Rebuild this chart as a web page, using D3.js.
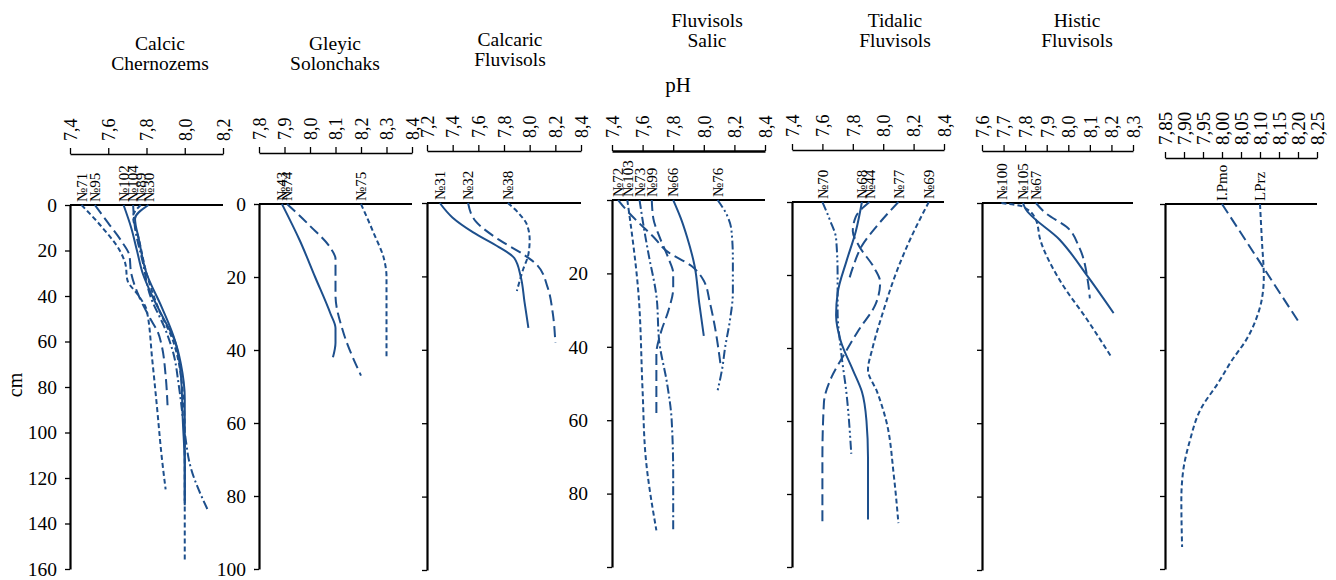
<!DOCTYPE html>
<html>
<head>
<meta charset="utf-8">
<script src="https://cdn.jsdelivr.net/npm/d3@7"></script>
<style>
  html, body { margin: 0; padding: 0; background: #fff; }
  svg { display: block; font-family: "Liberation Serif", "Times New Roman", serif; }
</style>
</head>
<body>
<svg id="chart" width="1336" height="580"></svg>
<script>
// Soil group headers (two lines each; the last panel has none)
const groupTitles = [
  ["Calcic", "Chernozems"],
  ["Gleyic", "Solonchaks"],
  ["Calcaric", "Fluvisols"],
  ["Fluvisols", "Salic"],
  ["Tidalic", "Fluvisols"],
  ["Histic", "Fluvisols"],
  []
];

// pH tick values of each panel's top axis
const phTicks = [
  [7.4, 7.6, 7.8, 8.0, 8.2],
  [7.8, 7.9, 8.0, 8.1, 8.2, 8.3, 8.4],
  [7.2, 7.4, 7.6, 7.8, 8.0, 8.2, 8.4],
  [7.4, 7.6, 7.8, 8.0, 8.2, 8.4],
  [7.4, 7.6, 7.8, 8.0, 8.2, 8.4],
  [7.6, 7.7, 7.8, 7.9, 8.0, 8.1, 8.2, 8.3],
  [7.85, 7.90, 7.95, 8.00, 8.05, 8.10, 8.15, 8.20, 8.25]
];

// depth ticks (cm)
const depthTicksDeep = [0, 20, 40, 60, 80, 100, 120, 140, 160];
const depthTicks = [0, 20, 40, 60, 80, 100];

// pH profiles: depth (cm) and pH
const calcicChernozems = [
  { id: "№71", style: "dash",
    depth: [0, 10, 20, 26, 33, 40, 46, 68, 89, 111, 125],
    ph:    [7.46, 7.57, 7.66, 7.69, 7.70, 7.76, 7.80, 7.83, 7.855, 7.88, 7.90] },
  { id: "№95", style: "longDash",
    depth: [0, 8, 16, 22, 30, 40, 50, 56, 62, 75, 88],
    ph:    [7.53, 7.60, 7.67, 7.71, 7.72, 7.76, 7.82, 7.86, 7.88, 7.90, 7.91] },
  { id: "№102", style: "solid",
    depth: [0, 10, 20, 30, 40, 50, 60, 70, 85, 100, 120, 132],
    ph:    [7.68, 7.72, 7.75, 7.78, 7.83, 7.89, 7.95, 7.98, 8.0, 8.0, 8.0, 8.0] },
  { id: "№104", style: "dashDot",
    depth: [0, 10, 25, 40, 55, 65, 80, 100, 115, 134],
    ph:    [7.73, 7.74, 7.78, 7.82, 7.90, 7.94, 7.97, 8.0, 8.03, 8.12] },
  { id: "№89", style: "dash",
    depth: [0, 5, 15, 30, 45, 60, 75, 100, 130, 156],
    ph:    [7.77, 7.73, 7.76, 7.80, 7.86, 7.94, 7.98, 8.0, 8.0, 8.0] },
  { id: "№30", style: "solid",
    depth: [0, 6, 15, 30, 45, 60, 75, 95, 115, 130],
    ph:    [7.81, 7.74, 7.76, 7.80, 7.88, 7.95, 7.98, 7.99, 8.0, 8.0] }
];

const gleyicSolonchaks = [
  { id: "№43", style: "solid",
    depth: [0, 10, 20, 30, 34, 38, 42],
    ph:    [7.89, 7.96, 8.02, 8.08, 8.10, 8.10, 8.09] },
  { id: "№74", style: "longDash",
    depth: [0, 6, 12, 15, 25, 35, 47],
    ph:    [7.91, 8.00, 8.08, 8.10, 8.10, 8.13, 8.20] },
  { id: "№75", style: "dash",
    depth: [0, 8, 15, 20, 30, 42],
    ph:    [8.20, 8.25, 8.29, 8.30, 8.30, 8.30] }
];

const calcaricFluvisols = [
  { id: "№31", style: "solid",
    depth: [0, 4, 8, 12, 15, 20, 27, 34],
    ph:    [7.30, 7.40, 7.56, 7.76, 7.88, 7.93, 7.96, 7.99] },
  { id: "№32", style: "longDash",
    depth: [0, 5, 10, 14, 17, 23, 30, 38],
    ph:    [7.52, 7.58, 7.76, 7.95, 8.06, 8.14, 8.18, 8.20] },
  { id: "№38", style: "dash",
    depth: [0, 3, 6, 10, 14, 18, 24],
    ph:    [7.83, 7.92, 7.98, 8.0, 7.99, 7.95, 7.90] }
];

const fluvisolsSalic = [
  { id: "№72", style: "longDash",
    depth: [0, 3, 6, 10, 14, 18, 22, 28, 34, 45],
    ph:    [7.44, 7.50, 7.57, 7.67, 7.76, 7.92, 8.0, 8.04, 8.07, 8.11] },
  { id: "№103", style: "dash",
    depth: [0, 6, 24, 52, 70, 90],
    ph:    [7.50, 7.52, 7.57, 7.60, 7.62, 7.69] },
  { id: "№73", style: "dashDot",
    depth: [0, 8, 15, 26, 39, 50, 60, 75, 90],
    ph:    [7.58, 7.61, 7.64, 7.69, 7.71, 7.76, 7.79, 7.80, 7.80] },
  { id: "№99", style: "longDash",
    depth: [0, 5, 10, 16, 20, 24, 30, 36, 42, 50, 59],
    ph:    [7.66, 7.67, 7.71, 7.77, 7.80, 7.80, 7.77, 7.72, 7.69, 7.69, 7.69] },
  { id: "№66", style: "solid",
    depth: [0, 5, 10, 18, 28, 37],
    ph:    [7.80, 7.85, 7.89, 7.94, 7.97, 8.0] },
  { id: "№76", style: "dashDotDot",
    depth: [0, 4, 8, 16, 25, 33, 40, 46, 52],
    ph:    [8.09, 8.15, 8.18, 8.19, 8.19, 8.17, 8.14, 8.12, 8.09] }
];

const tidalicFluvisols = [
  { id: "№70", style: "dashDotDot",
    depth: [0, 5, 10, 20, 30, 40, 53, 69],
    ph:    [7.60, 7.65, 7.69, 7.70, 7.70, 7.72, 7.76, 7.79] },
  { id: "№68", style: "solid",
    depth: [0, 8, 16, 25, 31, 38, 46, 52, 60, 70, 87],
    ph:    [7.86, 7.82, 7.76, 7.70, 7.69, 7.72, 7.80, 7.86, 7.89, 7.90, 7.90] },
  { id: "№44", style: "longDash",
    depth: [0, 4, 8, 12, 18, 22, 28, 35, 42, 48, 55, 70, 88],
    ph:    [7.91, 7.82, 7.80, 7.84, 7.94, 7.98, 7.95, 7.84, 7.74, 7.66, 7.61, 7.60, 7.60] },
  { id: "№77", style: "longDash",
    depth: [0, 6, 12, 18, 22],
    ph:    [8.10, 7.97, 7.86, 7.80, 7.77] },
  { id: "№69", style: "dash",
    depth: [0, 10, 20, 30, 40, 46, 52, 60, 75, 88],
    ph:    [8.30, 8.18, 8.08, 8.0, 7.93, 7.90, 7.96, 8.02, 8.07, 8.10] }
];

const histicFluvisols = [
  { id: "№100", style: "dash",
    depth: [0, 1, 4.6, 10, 21, 32, 42],
    ph:    [7.69, 7.79, 7.85, 7.87, 7.96, 8.09, 8.20] },
  { id: "№105", style: "solid",
    depth: [0, 1.4, 10, 20, 30],
    ph:    [7.79, 7.80, 7.96, 8.09, 8.21] },
  { id: "№67", style: "longDash",
    depth: [0, 3, 6.4, 12, 21, 26],
    ph:    [7.85, 7.90, 7.99, 8.05, 8.09, 8.10] }
];

const leptosols = [
  { id: "I.Pmo", style: "longDash",
    depth: [0, 32],
    ph:    [8.00, 8.20] },
  { id: "LPrz", style: "dash",
    depth: [0, 10, 20, 26, 30, 37, 43, 49, 56, 65, 73, 81, 94],
    ph:    [8.10, 8.105, 8.11, 8.105, 8.095, 8.065, 8.025, 7.99, 7.945, 7.915, 7.898, 7.893, 7.895] }
];

// ---- drawing ----
const dashes = {
  solid: null,
  longDash: "11,5",
  dash: "5,3",
  dashDot: "9,3,2,3",
  dashDotDot: "9,3,2,3,2,3"
};
const lineColor = "#1d4f8c";

const panels = [
  { profiles: calcicChernozems, title: groupTitles[0], ticks: phTicks[0], depth: depthTicksDeep,
    x0: 70, x1: 223, axisY: 154, zeroY: 205, bottomY: 569, titleX: 160, titleY: 50, depthLabels: "all", pad: 8 },
  { profiles: gleyicSolonchaks, title: groupTitles[1], ticks: phTicks[1], depth: depthTicks,
    x0: 259, x1: 412, axisY: 153, zeroY: 204, bottomY: 569, titleX: 335, titleY: 50, depthLabels: "all", pad: 8 },
  { profiles: calcaricFluvisols, title: groupTitles[2], ticks: phTicks[2], depth: depthTicks,
    x0: 427, x1: 581, axisY: 151, zeroY: 203, bottomY: 570, titleX: 510, titleY: 46, depthLabels: "none", pad: 8 },
  { profiles: fluvisolsSalic, title: groupTitles[3], ticks: phTicks[3], depth: depthTicks,
    x0: 612, x1: 765, axisY: 151, zeroY: 200, bottomY: 567, titleX: 707, titleY: 27, depthLabels: "inner", pad: 19, bold: true },
  { profiles: tidalicFluvisols, title: groupTitles[4], ticks: phTicks[4], depth: depthTicks,
    x0: 792, x1: 944, axisY: 150, zeroY: 202, bottomY: 567, titleX: 895, titleY: 27, depthLabels: "none", pad: 8 },
  { profiles: histicFluvisols, title: groupTitles[5], ticks: phTicks[5], depth: depthTicks,
    x0: 982, x1: 1133, axisY: 151, zeroY: 203, bottomY: 570, titleX: 1077, titleY: 27, depthLabels: "none", pad: 8 },
  { profiles: leptosols, title: groupTitles[6], ticks: phTicks[6], depth: depthTicks,
    x0: 1165, x1: 1317, axisY: 158, zeroY: 204, bottomY: 569, titleX: 1240, titleY: 27, depthLabels: "none", pad: 8, decimals: 2, tickFont: 19 }
];

const svg = d3.select("#chart");

panels.forEach(p => {
  const g = svg.append("g");
  const x = d3.scaleLinear().domain(d3.extent(p.ticks)).range([p.x0, p.x1]);
  const y = d3.scaleLinear().domain([0, p.depth[p.depth.length - 1]]).range([p.zeroY, p.bottomY]);
  const fmt = d3.format(p.decimals ? ".2f" : ".1f");

  // title
  g.append("text")
    .attr("x", p.titleX).attr("y", p.titleY)
    .attr("text-anchor", "middle").attr("font-size", 19.5)
    .selectAll("tspan").data(p.title).join("tspan")
    .attr("x", p.titleX).attr("dy", (d, i) => i === 0 ? 0 : 20)
    .text(d => d);

  // top pH axis
  const ax = g.append("g")
    .attr("transform", `translate(0,${p.axisY})`)
    .call(d3.axisTop(x).tickValues(p.ticks).tickSize(6).tickSizeOuter(0)
      .tickFormat(d => fmt(d).replace(".", ",")));
  ax.select(".domain").attr("stroke", "#000").attr("stroke-width", p.bold ? 2.6 : 1.4);
  ax.selectAll(".tick line").attr("stroke", "#000").attr("stroke-width", 1.3);
  ax.selectAll(".tick text")
    .attr("transform", "rotate(-90)")
    .attr("text-anchor", "start")
    .attr("x", 13).attr("y", 0).attr("dy", "0.35em")
    .attr("font-family", "Liberation Serif, serif")
    .attr("font-size", p.tickFont || 18).attr("fill", "#000");

  // depth axis
  const ay = g.append("g")
    .attr("transform", `translate(${p.x0},0)`)
    .call(d3.axisLeft(y).tickValues(p.depth).tickSize(5).tickSizeOuter(0).tickPadding(p.pad)
      .tickFormat(d => {
        if (p.depthLabels === "all") return d;
        if (p.depthLabels === "inner" && d > 0 && d < 100) return d;
        return "";
      }));
  ay.select(".domain").attr("stroke", "#000").attr("stroke-width", 2.2);
  ay.selectAll(".tick line").attr("stroke", "#000").attr("stroke-width", 1.3);
  ay.selectAll(".tick text")
    .attr("font-family", "Liberation Serif, serif")
    .attr("font-size", 19.5).attr("fill", "#000");

  // surface (0 cm) line
  g.append("line")
    .attr("x1", p.x0).attr("x2", x.range()[1])
    .attr("y1", y(0)).attr("y2", y(0))
    .attr("stroke", "#000").attr("stroke-width", 2.2);

  // profiles
  const line = d3.line()
    .x(d => x(d[1])).y(d => y(d[0]))
    .curve(d3.curveMonotoneY);

  g.selectAll("path.profile").data(p.profiles).join("path")
    .attr("class", "profile")
    .attr("d", d => line(d.depth.map((v, i) => [v, d.ph[i]])))
    .attr("fill", "none")
    .attr("stroke", lineColor)
    .attr("stroke-width", 2)
    .attr("stroke-dasharray", d => dashes[d.style]);

  // profile names above the surface line
  g.selectAll("text.pid").data(p.profiles).join("text")
    .attr("class", "pid")
    .attr("transform", d => `translate(${x(d.ph[0])},${y(0) - 3}) rotate(-90)`)
    .attr("dy", "0.35em")
    .attr("font-size", 15)
    .text(d => d.id);
});

// shared labels
svg.append("text")
  .attr("x", 678).attr("y", 92)
  .attr("text-anchor", "middle").attr("font-size", 21)
  .text("pH");

svg.append("text")
  .attr("transform", "translate(22,385) rotate(-90)")
  .attr("text-anchor", "middle").attr("font-size", 20)
  .text("cm");
</script>
</body>
</html>
